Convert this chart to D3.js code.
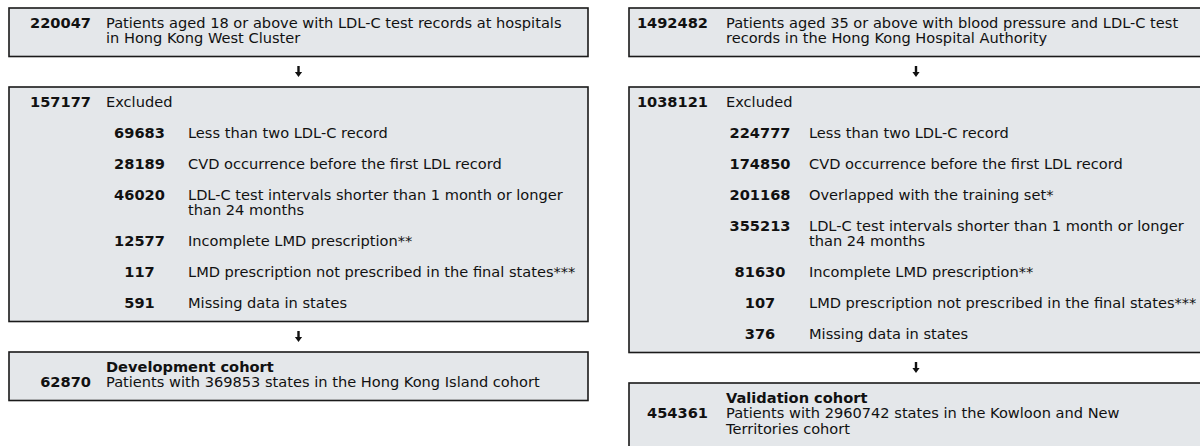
<!DOCTYPE html>
<html>
<head>
<meta charset="utf-8">
<script src="https://cdn.jsdelivr.net/npm/d3@7"></script>
<style>
  body { margin: 0; background: #fff; }
  text { font-family: "DejaVu Sans", sans-serif; font-size: 14.6px; fill: #111; }
  .num, .title { font-weight: bold; }
</style>
</head>
<body>
<script>
// development (left) column
var devTopCount = "220047";
var devTopText = ["Patients aged 18 or above with LDL-C test records at hospitals", "in Hong Kong West Cluster"];
var devExcluded = "157177";
var devReasonCounts = ["69683", "28189", "46020", "12577", "117", "591"];
var devReasonText = [
  ["Less than two LDL-C record"],
  ["CVD occurrence before the first LDL record"],
  ["LDL-C test intervals shorter than 1 month or longer", "than 24 months"],
  ["Incomplete LMD prescription**"],
  ["LMD prescription not prescribed in the final states***"],
  ["Missing data in states"]
];
var devFinalTitle = "Development cohort";
var devFinalCount = "62870";
var devFinalText = ["Patients with 369853 states in the Hong Kong Island cohort"];

// validation (right) column
var valTopCount = "1492482";
var valTopText = ["Patients aged 35 or above with blood pressure and LDL-C test", "records in the Hong Kong Hospital Authority"];
var valExcluded = "1038121";
var valReasonCounts = ["224777", "174850", "201168", "355213", "81630", "107", "376"];
var valReasonText = [
  ["Less than two LDL-C record"],
  ["CVD occurrence before the first LDL record"],
  ["Overlapped with the training set*"],
  ["LDL-C test intervals shorter than 1 month or longer", "than 24 months"],
  ["Incomplete LMD prescription**"],
  ["LMD prescription not prescribed in the final states***"],
  ["Missing data in states"]
];
var valFinalTitle = "Validation cohort";
var valFinalCount = "454361";
var valFinalText = ["Patients with 2960742 states in the Kowloon and New", "Territories cohort"];

var W = 1200, H = 446;
var svg = d3.select("body").append("svg")
  .attr("width", W)
  .attr("height", H);

// one "line unit" in pixels
var lineH = 15.5;
var u = d3.scaleLinear().domain([0, 1]).range([0, lineH]);

function drawColumn(col) {
  var g = svg.append("g");
  var y = 8;
  col.blocks.forEach(function(block, bi){
    var top = y;
    var cy = top + 14;
    var rows = [];
    block.rows.forEach(function(r, ri){
      rows.push({row: r, cy: cy});
      cy += u(r.lines.length + (r.title ? 1 : 0)) + u(1);
    });
    var last = rows[rows.length - 1];
    var bottom = last.cy + u(last.row.lines.length - 1 + (last.row.title ? 1 : 0)) + 19;

    g.append("rect")
      .attr("x", col.x0)
      .attr("y", top)
      .attr("width", col.x1 - col.x0)
      .attr("height", bottom - top)
      .attr("fill", "#e4e7ea")
      .attr("stroke", "#1a1a1a")
      .attr("stroke-width", 1.6);

    rows.forEach(function(d){
      var ly = d.cy;
      if (d.row.title) {
        g.append("text").attr("class", "title")
          .attr("x", col.textX).attr("y", ly)
          .attr("dominant-baseline", "central")
          .text(d.row.title);
        ly += u(1);
      }
      var sub = d.row.sub;
      g.append("text").attr("class", "num")
        .attr("x", sub ? col.subNumX : col.numX)
        .attr("y", ly)
        .attr("text-anchor", sub ? "middle" : "end")
        .attr("dominant-baseline", "central")
        .text(d.row.count);
      g.selectAll(null).data(d.row.lines).enter().append("text")
        .attr("x", sub ? col.subTextX : col.textX)
        .attr("y", function(t, i){ return ly + u(i); })
        .attr("dominant-baseline", "central")
        .text(function(t){ return t; });
    });

    y = bottom;
    if (bi < col.blocks.length - 1) {
      // arrow between boxes
      var ay = y + 15.5;
      var ax = (col.x0 + col.x1) / 2;
      g.append("path")
        .attr("d", "M" + (ax - 1.2) + "," + (ay - 6) + "h2.4v6h2.4l-3.6,5l-3.6,-5h2.4z")
        .attr("fill", "#111");
      y += 30.5;
    }
  });
}

function buildRows(excluded, counts, texts) {
  var rows = [{count: excluded, lines: ["Excluded"]}];
  counts.forEach(function(c, i){
    rows.push({count: c, lines: texts[i], sub: true});
  });
  return rows;
}

drawColumn({
  x0: 9, x1: 588, numX: 91, textX: 106, subNumX: 139.5, subTextX: 188,
  blocks: [
    {rows: [{count: devTopCount, lines: devTopText}]},
    {rows: buildRows(devExcluded, devReasonCounts, devReasonText)},
    {rows: [{title: devFinalTitle, count: devFinalCount, lines: devFinalText}]}
  ]
});

drawColumn({
  x0: 629, x1: 1203, numX: 708, textX: 726, subNumX: 760, subTextX: 809,
  blocks: [
    {rows: [{count: valTopCount, lines: valTopText}]},
    {rows: buildRows(valExcluded, valReasonCounts, valReasonText)},
    {rows: [{title: valFinalTitle, count: valFinalCount, lines: valFinalText}]}
  ]
});
</script>
</body>
</html>
